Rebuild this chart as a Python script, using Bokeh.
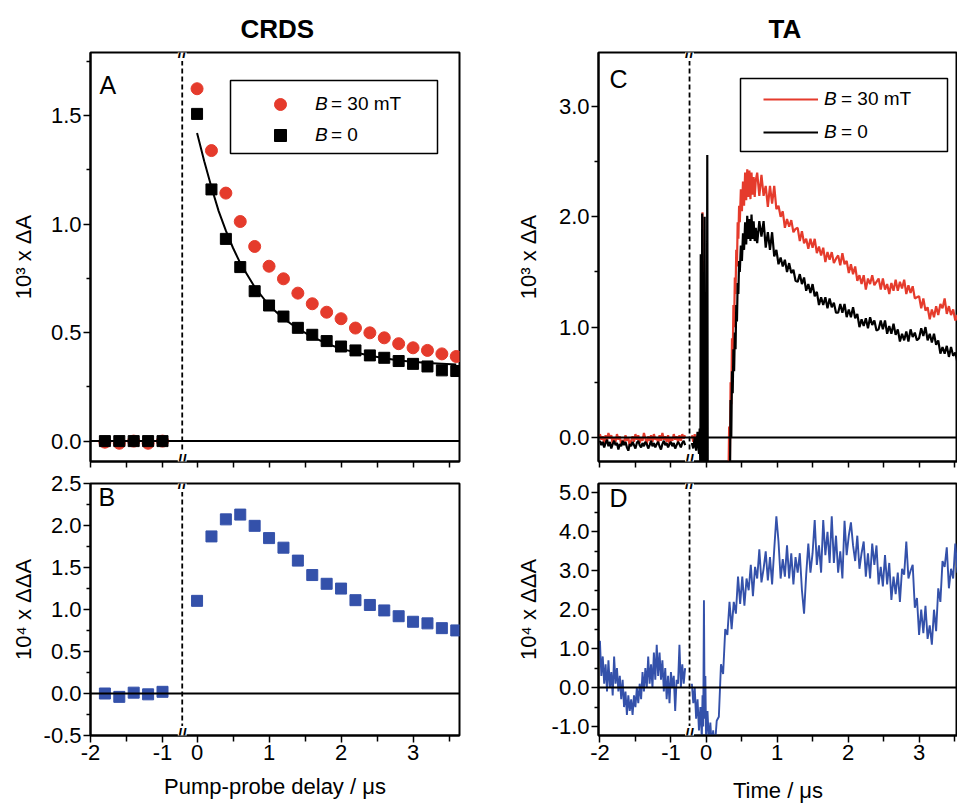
import numpy as np
from bokeh.plotting import figure
from bokeh.models import (Span, Label, Legend, BoxAnnotation, FixedTicker, AllLabels,
                          NumeralTickFormatter, CustomJSTickFormatter, Range1d)
from bokeh.layouts import row, column
from bokeh.embed import file_html
from bokeh.resources import INLINE

FONT = "Liberation Sans"
RED = "#E53B2C"
BLUE = "#3451AA"
BLACK = "#000000"

# ------------------------------------------------------------------ data
# CRDS (panels A and B): pump-probe delay in microseconds
crds_delay = [-1.8, -1.6, -1.4, -1.2, -1.0,
              0.0, 0.2, 0.4, 0.6, 0.8, 1.0, 1.2, 1.4, 1.6, 1.8,
              2.0, 2.2, 2.4, 2.6, 2.8, 3.0, 3.2, 3.4, 3.6]
crds_dA_30mT = [-0.005, -0.01, 0.0, -0.01, 0.0,
                1.624, 1.339, 1.143, 1.012, 0.897, 0.806, 0.748, 0.682, 0.633, 0.594,
                0.564, 0.521, 0.499, 0.476, 0.449, 0.430, 0.418, 0.402, 0.390]
crds_dA_0 = [0.0, 0.0, 0.0, 0.0, 0.0,
             1.508, 1.160, 0.932, 0.802, 0.691, 0.625, 0.574, 0.522, 0.490, 0.461,
             0.436, 0.418, 0.395, 0.384, 0.369, 0.356, 0.344, 0.326, 0.323]
crds_ddA = [0.0, -0.04, 0.01, -0.01, 0.02,
            1.103, 1.870, 2.073, 2.130, 1.996, 1.850, 1.736, 1.582, 1.410, 1.306,
            1.249, 1.111, 1.054, 0.989, 0.920, 0.854, 0.835, 0.778, 0.751]
fit_delay = [0.0, 0.1, 0.2, 0.3, 0.4, 0.5, 0.6, 0.8, 1.0, 1.2, 1.4, 1.6, 1.8,
             2.0, 2.4, 2.8, 3.2, 3.6]
fit_dA_0 = [1.42, 1.29, 1.17, 1.06, 0.97, 0.89, 0.82, 0.71, 0.625, 0.565, 0.518,
            0.48, 0.45, 0.425, 0.393, 0.372, 0.36, 0.353]

# TA (panels C and D): time in microseconds
# before the break, sampled from -2.0 to -0.8 us
ta_left_30mT = [0.03, -0.02, 0.01, -0.05, 0.02, -0.03, 0.04, -0.01, 0.02, -0.06,
                0.00, -0.04, 0.03, -0.02, 0.01, -0.07, -0.02, -0.05, 0.02, -0.03,
                0.00, -0.08, -0.03, 0.01, -0.04, 0.03, -0.02, 0.02, -0.05, 0.00,
                -0.03, 0.04, -0.01, -0.06, 0.01, -0.03, 0.02, -0.04, 0.03, -0.02,
                0.00, -0.05, 0.02, -0.03, 0.04, -0.02, 0.01, -0.04, 0.02, -0.06,
                0.00, -0.03, 0.03, -0.02, 0.01, -0.04, 0.02, -0.03, 0.03, -0.01, 0.02]
ta_left_0 = [-0.03, -0.07, -0.04, -0.09, -0.05, -0.02, -0.08, -0.04, -0.10, -0.06,
             -0.03, -0.07, -0.05, -0.11, -0.06, -0.08, -0.03, -0.07, -0.04, -0.09,
             -0.12, -0.06, -0.08, -0.04, -0.07, -0.10, -0.05, -0.03, -0.07, -0.09,
             -0.05, -0.08, -0.04, -0.06, -0.10, -0.07, -0.03, -0.08, -0.05, -0.09,
             -0.06, -0.04, -0.08, -0.11, -0.06, -0.03, -0.07, -0.05, -0.09, -0.06,
             -0.04, -0.08, -0.05, -0.10, -0.07, -0.04, -0.06, -0.09, -0.05, -0.03, -0.07]
ta_left_ddA = [1.2, 0.3, 0.8, 0.1, 0.6, -0.1, 0.7, 0.0, 0.4, -0.2,
               0.8, 0.1, 0.5, -0.1, 0.3, -0.3, 0.2, -0.5, -0.1, -0.7,
               -0.2, -0.6, -0.3, -0.7, -0.2, -0.5, 0.0, -0.4, 0.1, -0.3,
               0.4, -0.1, 0.5, 0.0, 0.8, 0.1, 0.6, 0.0, 0.9, 0.2,
               1.1, 0.3, 0.9, 0.2, 0.7, -0.1, 0.5, -0.3, 0.3, -0.4,
               0.4, 0.0, 0.3, -0.6, 0.2, 0.1, 1.1, 0.0, 0.6, 0.1, 0.5]
# after the break: (time, value) around the pump pulse
ta_early_30mT = [(-0.20, 0.02), (-0.18, -0.04), (-0.16, 0.03), (-0.14, -0.06), (-0.12, 0.01),
                 (-0.10, -0.05), (-0.08, 0.02), (-0.07, -0.14), (-0.06, 0.05), (-0.05, 2.04),
                 (-0.045, -0.4), (-0.035, 1.6), (-0.03, -0.5), (-0.02, 1.2), (-0.01, -0.6),
                 (0.00, -0.8), (0.05, -1.0), (0.15, -1.2), (0.25, -1.0), (0.31, -0.6),
                 (0.325, 0.10), (0.335, -0.3), (0.345, 0.5), (0.355, 0.3), (0.365, 0.9),
                 (0.375, 0.7), (0.385, 1.2), (0.395, 1.0), (0.405, 1.45), (0.415, 1.3),
                 (0.425, 1.7), (0.435, 1.55), (0.445, 1.95), (0.455, 1.8), (0.465, 2.1),
                 (0.475, 1.95), (0.49, 2.25), (0.505, 2.05), (0.52, 2.32), (0.535, 2.1),
                 (0.55, 2.4), (0.565, 2.15), (0.58, 2.43), (0.595, 2.18), (0.61, 2.42),
                 (0.625, 2.16), (0.64, 2.4), (0.655, 2.2), (0.67, 2.36), (0.685, 2.18),
                 (0.70, 2.33)]
ta_early_0 = [(-0.20, -0.05), (-0.18, -0.10), (-0.16, 0.00), (-0.14, -0.12), (-0.12, 0.05),
              (-0.10, -0.15), (-0.09, 0.08), (-0.08, -0.30), (-0.075, 1.66), (-0.065, -0.5),
              (-0.055, 2.03), (-0.045, -0.6), (-0.035, 1.5), (-0.028, -0.6), (-0.02, 2.0),
              (-0.01, -0.8), (0.0, 0.6), (0.008, -0.9), (0.017, 2.56), (0.025, -1.0),
              (0.10, -1.3), (0.20, -1.2), (0.30, -0.9), (0.335, -0.5), (0.345, 0.34),
              (0.355, 0.0), (0.365, 0.6), (0.375, 0.4), (0.385, 0.8), (0.395, 0.6),
              (0.405, 0.95), (0.415, 0.8), (0.425, 1.2), (0.435, 1.05), (0.445, 1.4),
              (0.455, 1.3), (0.465, 1.6), (0.475, 1.5), (0.49, 1.74), (0.505, 1.6),
              (0.52, 1.85), (0.535, 1.7), (0.55, 1.95), (0.565, 1.75), (0.58, 2.01),
              (0.595, 1.8), (0.61, 1.98), (0.625, 1.78), (0.64, 2.02), (0.655, 1.8),
              (0.67, 1.96), (0.685, 1.78), (0.70, 1.9)]
ta_early_ddA = [(-0.20, 0.1), (-0.18, -0.4), (-0.16, 0.0), (-0.14, -0.8), (-0.12, -0.3),
                (-0.10, -1.1), (-0.08, -0.5), (-0.06, -1.3), (-0.05, -0.2), (-0.04, -1.0),
                (-0.03, 2.24), (-0.02, -0.8), (-0.01, 0.3), (0.00, -1.3), (0.02, -0.6),
                (0.04, -1.4), (0.06, -0.9), (0.08, -1.5), (0.10, -1.1), (0.12, -1.6)]
# decay, sampled every 0.03 us from 0.72 us (C) / 0.15 us (D) to 3.54 us
ta_decay_30mT = [2.40, 2.19, 2.38, 2.19, 2.28, 2.09, 2.28, 2.12, 2.28, 2.07,
                 2.10, 2.00, 2.05, 1.90, 1.98, 1.91, 1.97, 1.86, 1.89, 1.90,
                 1.78, 1.87, 1.76, 1.80, 1.71, 1.80, 1.72, 1.80, 1.67, 1.73,
                 1.65, 1.72, 1.59, 1.68, 1.61, 1.68, 1.58, 1.62, 1.65, 1.56,
                 1.67, 1.57, 1.60, 1.49, 1.57, 1.48, 1.55, 1.42, 1.47, 1.39,
                 1.47, 1.34, 1.44, 1.39, 1.47, 1.38, 1.41, 1.44, 1.34, 1.44,
                 1.34, 1.39, 1.30, 1.40, 1.33, 1.43, 1.33, 1.41, 1.35, 1.43,
                 1.30, 1.38, 1.31, 1.37, 1.26, 1.27, 1.28, 1.17, 1.26, 1.15,
                 1.18, 1.07, 1.16, 1.09, 1.19, 1.11, 1.21, 1.17, 1.26, 1.12,
                 1.19, 1.11, 1.16, 1.06, 1.11]
ta_decay_0 = [1.76, 1.96, 1.82, 1.96, 1.72, 1.86, 1.70, 1.86, 1.64, 1.70,
              1.57, 1.63, 1.55, 1.61, 1.50, 1.58, 1.49, 1.52, 1.42, 1.41,
              1.48, 1.39, 1.45, 1.33, 1.39, 1.31, 1.39, 1.28, 1.32, 1.20,
              1.27, 1.20, 1.27, 1.17, 1.26, 1.18, 1.22, 1.13, 1.13, 1.21,
              1.13, 1.21, 1.09, 1.16, 1.09, 1.18, 1.08, 1.12, 1.00, 1.07,
              1.01, 1.08, 0.99, 1.09, 1.02, 1.06, 0.97, 0.98, 1.06, 0.98,
              1.06, 0.94, 1.01, 0.94, 1.03, 0.93, 0.98, 0.87, 0.94, 0.88,
              0.96, 0.87, 0.98, 0.91, 0.95, 0.88, 0.90, 0.99, 0.92, 1.00,
              0.88, 0.94, 0.86, 0.94, 0.84, 0.88, 0.76, 0.82, 0.76, 0.83,
              0.73, 0.82, 0.74, 0.77, 0.68]
ta_decay_ddA = [-0.85, -0.75, 0.6, 0.35, 1.5, 1.35, 2.2, 1.5, 2.2, 1.9,
                2.85, 2.15, 2.85, 2.1, 2.8, 2.5, 3.15, 2.35, 3.1, 2.8,
                3.55, 2.7, 3.05, 3.5, 2.75, 3.35, 2.65, 3.55, 4.4, 3.75,
                2.8, 3.3, 2.85, 3.65, 2.8, 3.45, 2.65, 3.35, 2.95, 3.45,
                2.5, 1.9, 2.9, 3.7, 2.95, 3.45, 4.3, 3.15, 3.65, 2.95,
                4.3, 3.4, 4.0, 3.2, 4.4, 3.2, 3.9, 2.95, 3.5, 2.8,
                4.28, 3.4, 3.9, 4.24, 3.65, 3.25, 3.9, 3.05, 3.45, 3.75,
                2.85, 3.45, 2.8, 3.7, 3.15, 3.65, 2.65, 3.1, 2.6, 3.4,
                2.65, 3.2, 2.25, 2.85, 2.4, 2.95, 2.2, 3.05, 2.9, 3.75,
                2.8, 3.0, 3.15, 2.05, 2.3, 1.35, 2.0, 1.4, 2.1, 1.25,
                1.6, 1.1, 2.0, 1.45, 2.55, 2.2, 3.25, 3.1, 3.6, 2.55,
                3.05, 2.8, 3.7, 2.95]

x_major = [-2, -1, 0, 1, 2, 3]
x_minor = [-1.5, 0.5, 1.5, 2.5, 3.5]

# ------------------------------------------------- broken-axis geometry
CRDS_XR = (-2.0, 3.125)
CRDS_SHIFT = 0.52
CRDS_BREAK = -0.726
TA_XR = (-2.02, 3.036)
TA_SHIFT = 0.505
TA_BREAK = -0.738


def to_u(xs, shift):
    return [float(x) if x < -0.5 else round(float(x) - shift, 5) for x in xs]


def base_fig(w, h, borders, xr, yr, title=None, title_offset=0):
    l, r, t, b = borders
    p = figure(width=w, height=h, x_range=Range1d(*xr), y_range=Range1d(*yr),
               output_backend="svg", toolbar_location=None, title=title,
               min_border_left=l, min_border_right=r, min_border_top=t, min_border_bottom=b)
    p.grid.visible = False
    p.background_fill_color = "white"
    p.border_fill_color = "white"
    p.outline_line_color = "black"
    p.outline_line_width = 2
    p.outline_line_alpha = 1.0
    if title is not None:
        p.title.align = "left"
        p.title.text_font = FONT
        p.title.text_font_size = "26px"
        p.title.text_font_style = "bold"
        p.title.text_color = "black"
        p.title.offset = title_offset
        p.title.standoff = 17
    return p


def style_axes(p, shift, xtitle, xstand, yticks, yminor, ytitle, ystand):
    xa = p.xaxis[0]
    ya = p.yaxis[0]
    for ax in (xa, ya):
        ax.axis_line_width = 2
        ax.axis_line_color = "black"
        ax.major_tick_line_width = 1.5
        ax.minor_tick_line_width = 1.5
        ax.major_tick_line_color = "black"
        ax.minor_tick_line_color = "black"
        ax.major_tick_in = 0
        ax.major_tick_out = 7
        ax.minor_tick_in = 0
        ax.minor_tick_out = 4
        ax.major_label_text_font = FONT
        ax.major_label_text_font_size = "22px"
        ax.major_label_text_color = "black"
        ax.major_label_standoff = 2
        ax.axis_label_text_font = FONT
        ax.axis_label_text_font_size = "22px"
        ax.axis_label_text_font_style = "normal"
        ax.axis_label_text_color = "black"
    if xtitle:
        xa.ticker = FixedTicker(ticks=to_u(x_major, shift), minor_ticks=to_u(x_minor, shift))
        xa.formatter = CustomJSTickFormatter(
            code="const v = tick < -0.6 ? tick : tick + %s; return String(Math.round(v));" % shift)
        xa.axis_label = xtitle
        xa.axis_label_standoff = xstand
    else:
        # no labelled ticks on the upper panels: every tick drawn as a plain mark
        xa.ticker = FixedTicker(ticks=[], minor_ticks=to_u(x_major + x_minor, shift))
        xa.major_tick_out = 6
        xa.major_label_standoff = 0
    xa.major_label_policy = AllLabels()
    xa.minor_tick_out = 6
    ya.ticker = FixedTicker(ticks=yticks, minor_ticks=yminor)
    ya.formatter = NumeralTickFormatter(format="0.0")
    ya.axis_label = ytitle
    ya.axis_label_standoff = ystand


def decorate(p, brk, yr, letter, frame_h):
    p.add_layout(Span(location=0, dimension="width", line_color="black", line_width=2))
    p.add_layout(Span(location=brk, dimension="height", line_color="black",
                      line_width=1.8, line_dash="5 3"))
    for yy, off in ((yr[0], 1), (yr[1], 0)):
        p.add_layout(Label(x=brk, y=yy, y_offset=off, text="//", text_align="center",
                           text_baseline="middle", text_font=FONT, text_font_size="16px",
                           text_font_style="bold", text_color="black",
                           background_fill_color="white"))
    p.add_layout(Label(x=letter[0], y=frame_h - letter[1], x_units="screen", y_units="screen",
                       text=letter[2], text_baseline="top", text_font=FONT,
                       text_font_size="25px", text_color="black"))


def split_legend(p, box, keys_loc, rest_loc, items_keys, items_rest, gw, gh, spacing, standoff):
    p.add_layout(BoxAnnotation(left=box[0], right=box[1], bottom=box[2], top=box[3],
                               left_units="screen", right_units="screen",
                               bottom_units="screen", top_units="screen",
                               fill_color="white", fill_alpha=1.0,
                               line_color="black", line_width=1.5, line_alpha=1.0))
    common = dict(orientation="vertical", padding=0, margin=0, spacing=spacing,
                  glyph_height=gh, label_height=gh, border_line_color=None,
                  background_fill_alpha=0.0, label_text_font=FONT,
                  label_text_font_size="19px", label_text_color="black")
    l1 = Legend(items=items_keys, location=keys_loc, glyph_width=gw,
                label_standoff=standoff, label_text_font_style="italic", **common)
    l2 = Legend(items=items_rest, location=rest_loc, glyph_width=0,
                label_standoff=0, label_text_font_style="normal", **common)
    p.add_layout(l1)
    p.add_layout(l2)


# ------------------------------------------------------------ panel A
A_YR = (-0.094, 1.791)
pA = base_fig(508, 470, (90, 49, 52, 9), CRDS_XR, A_YR, title="CRDS", title_offset=150)
style_axes(pA, CRDS_SHIFT, None, 0, [0.0, 0.5, 1.0, 1.5], [0.25, 0.75, 1.25, 1.75],
           "10\u00b3 x \u0394A", 12)
decorate(pA, CRDS_BREAK, A_YR, (9, 18, "A"), 409)
rA_red = pA.scatter(to_u(crds_delay, CRDS_SHIFT), crds_dA_30mT, marker="circle", size=12,
                    fill_color=RED, line_color=RED)
rA_fit = pA.line(to_u(fit_delay, CRDS_SHIFT), fit_dA_0, line_color="black", line_width=2)
rA_blk = pA.scatter(to_u(crds_delay, CRDS_SHIFT), crds_dA_0, marker="square", size=11,
                    fill_color="black", line_color="black")
split_legend(pA, (140, 347, 308, 381), (175, 311), (241, 311),
             [("B", [rA_red]), ("B", [rA_blk])], [("= 30 mT", [rA_red]), ("= 0", [rA_blk])],
             30, 30, 1, 20)

# ------------------------------------------------------------ panel B
B_YR = (-0.5, 2.5)
pB = base_fig(508, 335, (90, 49, 13, 62), CRDS_XR, B_YR)
style_axes(pB, CRDS_SHIFT, "Pump-probe delay / \u03bcs", 11,
           [-0.5, 0.0, 0.5, 1.0, 1.5, 2.0, 2.5],
           [-0.25, 0.25, 0.75, 1.25, 1.75, 2.25], "10\u2074 x \u0394\u0394A", 5)
decorate(pB, CRDS_BREAK, B_YR, (8, 7, "B"), 260)
pB.scatter(to_u(crds_delay, CRDS_SHIFT), crds_ddA, marker="square", size=11,
           fill_color=BLUE, line_color=BLUE)

# ------------------------------------------------------------ panel C
C_YR = (-0.218, 3.489)
pC = base_fig(449, 470, (90, 0, 49, 8), TA_XR, C_YR, title="TA", title_offset=170)
style_axes(pC, TA_SHIFT, None, 0, [0.0, 1.0, 2.0, 3.0], [0.5, 1.5, 2.5],
           "10\u00b3 x \u0394A", 15)
decorate(pC, TA_BREAK, C_YR, (11, 16, "C"), 413)

ex30, ey30 = zip(*ta_early_30mT)
ex0, ey0 = zip(*ta_early_0)
c_x30 = list(ex30) + list(np.linspace(0.72, 3.54, len(ta_decay_30mT)))
c_y30 = list(ey30) + ta_decay_30mT
c_x0 = list(ex0) + list(np.linspace(0.72, 3.54, len(ta_decay_0)))
c_y0 = list(ey0) + ta_decay_0

pC.line(to_u(np.linspace(-2.0, -0.8, len(ta_left_30mT)), TA_SHIFT), ta_left_30mT,
        line_color=RED, line_width=2.2)
rC_red = pC.line(to_u(c_x30, TA_SHIFT), c_y30, line_color=RED, line_width=2.2)
pC.line(to_u(np.linspace(-2.0, -0.8, len(ta_left_0)), TA_SHIFT), ta_left_0,
        line_color="black", line_width=2.2)
rC_blk = pC.line(to_u(c_x0, TA_SHIFT), c_y0, line_color="black", line_width=2.2)
split_legend(pC, (142, 349, 310, 383), (165, 314), (243, 314),
             [("B", [rC_red]), ("B", [rC_blk])], [("= 30 mT", [rC_red]), ("= 0", [rC_blk])],
             55, 30, 3, 6)

# ------------------------------------------------------------ panel D
D_YR = (-1.23, 5.24)
pD = base_fig(449, 335, (90, 0, 11, 65), TA_XR, D_YR)
style_axes(pD, TA_SHIFT, "Time / \u03bcs", 15, [-1.0, 0.0, 1.0, 2.0, 3.0, 4.0, 5.0],
           [-0.5, 0.5, 1.5, 2.5, 3.5, 4.5], "10\u2074 x \u0394\u0394A", 8)
decorate(pD, TA_BREAK, D_YR, (11, 7, "D"), 259)
exd, eyd = zip(*ta_early_ddA)
d_x = list(exd) + list(np.linspace(0.15, 3.54, len(ta_decay_ddA)))
d_y = list(eyd) + ta_decay_ddA
pD.line(to_u(np.linspace(-2.0, -0.8, len(ta_left_ddA)), TA_SHIFT), ta_left_ddA,
        line_color=BLUE, line_width=1.9)
pD.line(to_u(d_x, TA_SHIFT), d_y, line_color=BLUE, line_width=1.9)

layout = column(row(pA, pC), row(pB, pD))
open("out.html", "w").write(file_html(layout, INLINE))
